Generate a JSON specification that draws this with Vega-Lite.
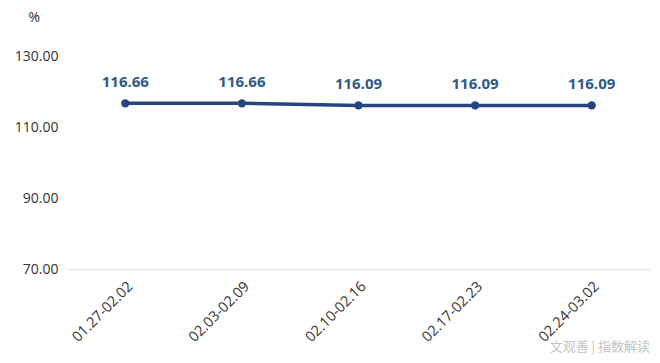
{
  "$schema": "https://vega.github.io/schema/vega-lite/v6.json",
  "width": 583,
  "height": 213,
  "autosize": "none",
  "padding": {"left": 67, "top": 56, "right": 10, "bottom": 94},
  "background": "white",
  "title": {"text": "文观善 | 指数解读", "orient": "bottom", "anchor": "end", "fontSize": 13, "fontWeight": "normal", "color": "#c4c4c4", "font": "Noto Sans CJK SC", "offset": -3, "baseline": "top"},
  "data": {"values": [
    {"week": "01.27-02.02", "value": 116.66},
    {"week": "02.03-02.09", "value": 116.66},
    {"week": "02.10-02.16", "value": 116.09},
    {"week": "02.17-02.23", "value": 116.09},
    {"week": "02.24-03.02", "value": 116.09}
  ]},
  "config": {"view": {"stroke": null}, "font": "Open Sans"},
  "encoding": {
    "x": {"field": "week", "type": "nominal", "sort": null, "scale": {"type": "point", "padding": 0.5},
      "axis": {"title": null, "labelAngle": -45, "labelFontSize": 14.5, "labelColor": "#333", "labelFont": "Open Sans", "ticks": false, "domainColor": "#e6e6e6", "domainWidth": 1.5, "labelPadding": 10}},
    "y": {"field": "value", "type": "quantitative", "scale": {"domain": [70, 130], "zero": false, "nice": false},
      "axis": {"values": [70, 90, 110, 130], "format": ".2f", "grid": false, "domain": false, "ticks": false, "labelFontSize": 14, "labelColor": "#333", "labelPadding": 9,
        "title": "%", "titleAngle": 0, "titleFontSize": 14, "titleFontWeight": "normal", "titleColor": "#333", "titleX": -39, "titleY": -32, "titleAlign": "left"}}
  },
  "layer": [
    {"mark": {"type": "line", "color": "#26457f", "strokeWidth": 3.5}},
    {"mark": {"type": "point", "filled": true, "color": "#26457f", "size": 70, "opacity": 1}},
    {"mark": {"type": "text", "dy": -21, "fontSize": 15, "fontWeight": "bold", "color": "#2e5a87", "font": "Open Sans"},
      "encoding": {"text": {"field": "value", "type": "quantitative", "format": ".2f"}}}
  ]
}
